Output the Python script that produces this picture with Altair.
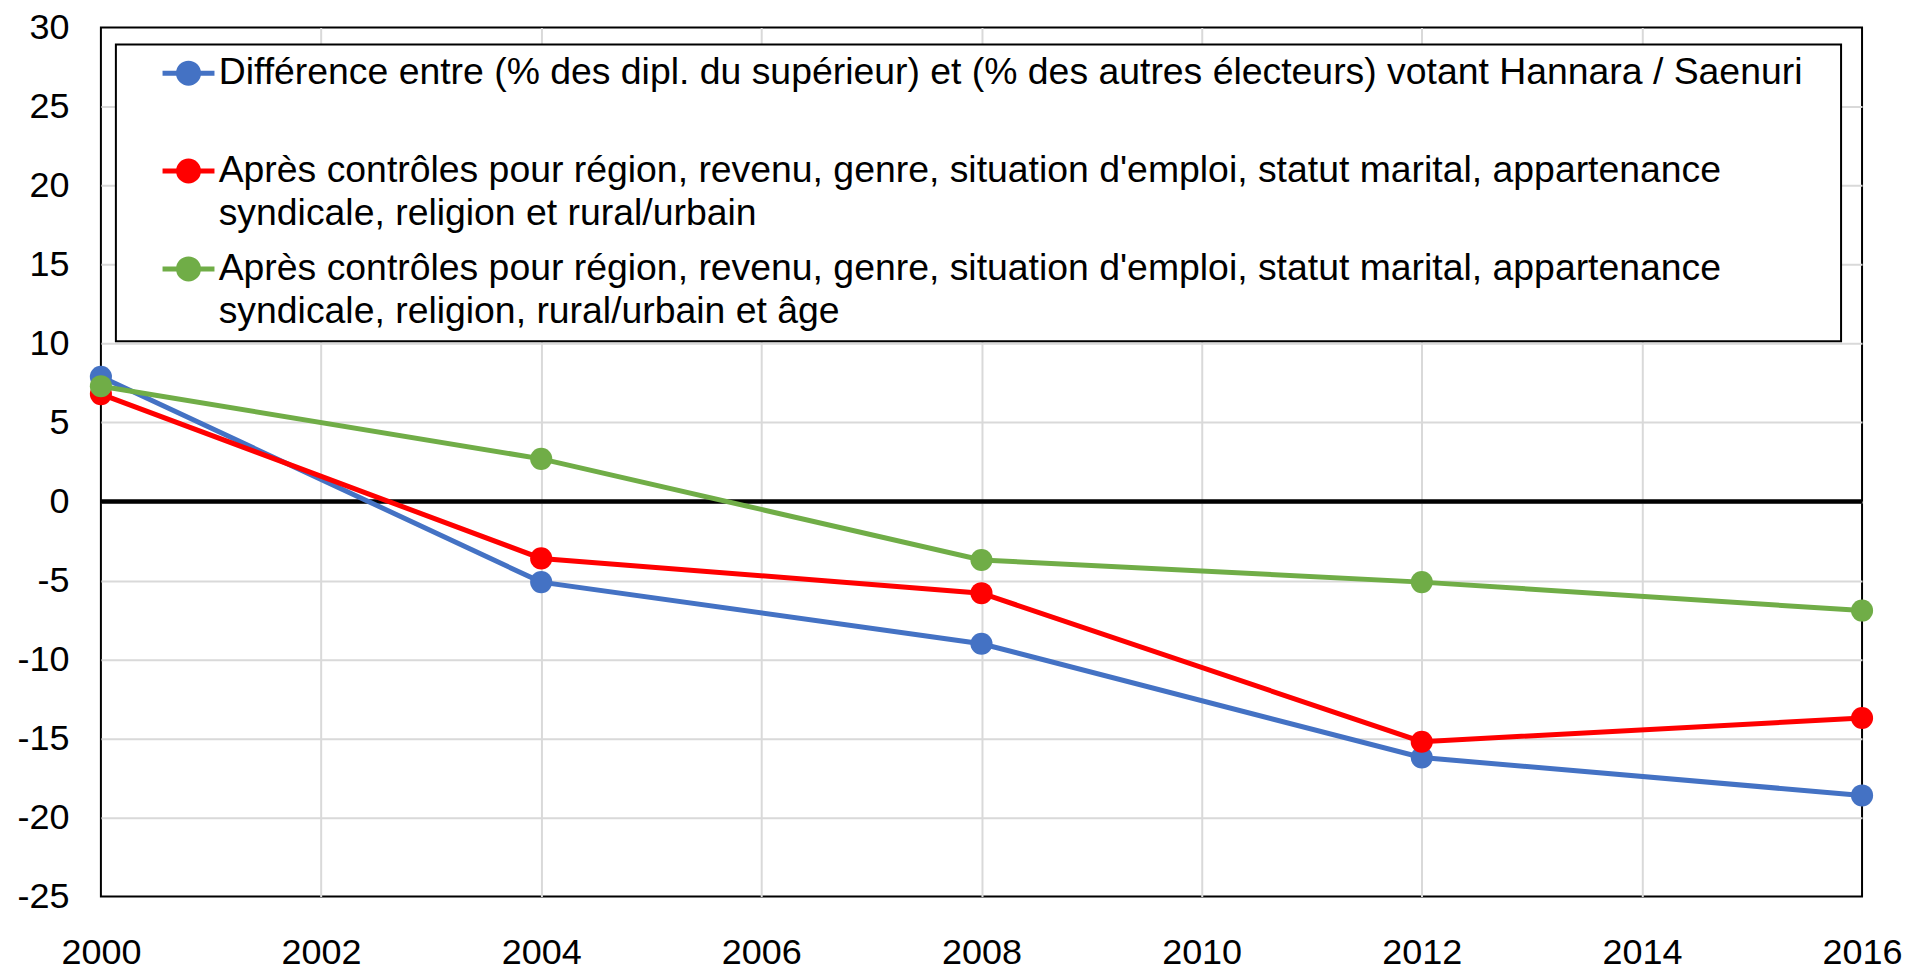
import altair as alt
import pandas as pd

years = [2000, 2004, 2008, 2012, 2016]
diff_raw = [7.9, -5.1, -9.0, -16.2, -18.6]
ctrl_no_age = [6.8, -3.6, -5.8, -15.2, -13.7]
ctrl_age = [7.3, 2.7, -3.7, -5.1, -6.9]

series_names = [
    "Différence entre (% des dipl. du supérieur) et (% des autres électeurs) votant Hannara / Saenuri",
    "Après contrôles pour région, revenu, genre, situation d'emploi, statut marital, appartenance\nsyndicale, religion et rural/urbain",
    "Après contrôles pour région, revenu, genre, situation d'emploi, statut marital, appartenance\nsyndicale, religion, rural/urbain et âge",
]
series_colors = ["#4472C4", "#FF0000", "#70AD47"]

x_ticks = [2000, 2002, 2004, 2006, 2008, 2010, 2012, 2014, 2016]
y_ticks = [-25, -20, -15, -10, -5, 0, 5, 10, 15, 20, 25, 30]

rows = []
for name, vals in zip(series_names, [diff_raw, ctrl_no_age, ctrl_age]):
    for yr, v in zip(years, vals):
        rows.append({"year": yr, "value": v, "series": name})
df = pd.DataFrame(rows)

FONT = "Liberation Sans"
# trailing spacing (kept from trimming by a zero-width space) widens the legend box on the right
PAD_RIGHT = "\u00a0\u00a0\u2009\u200b"

x_enc = alt.X(
    "year:Q",
    scale=alt.Scale(domain=[2000, 2016], nice=False, zero=False),
    axis=alt.Axis(
        values=x_ticks, labelExpr="'' + datum.value", title=None, labelFontSize=36, labelFont=FONT,
        labelColor="black", labelPadding=39, labelFlush=False, ticks=False, domain=False,
        gridColor="#d9d9d9", gridWidth=2,
        gridOpacity=alt.condition("datum.value == 2000 || datum.value == 2016", alt.value(0), alt.value(1)),
    ),
)
y_enc = alt.Y(
    "value:Q",
    scale=alt.Scale(domain=[-25, 30], nice=False, zero=False),
    axis=alt.Axis(
        values=y_ticks, labelExpr="'' + datum.value", title=None, labelFontSize=36, labelFont=FONT,
        labelColor="black", labelPadding=32, labelFlush=False, ticks=False, domain=False,
        gridColor="#d9d9d9", gridWidth=2,
        gridOpacity=alt.condition("datum.value == -25 || datum.value == 30", alt.value(0), alt.value(1)),
    ),
)

# legend symbol: short line with a (ring-filled) circle
symbol_path = (
    "M-2.6,0L2.6,0"
    "M1,0A1,1,0,1,1,-1,0A1,1,0,1,1,1,0Z"
    "M0.55,0A0.55,0.55,0,1,1,-0.55,0A0.55,0.55,0,1,1,0.55,0Z"
    "M0.15,0A0.15,0.15,0,1,1,-0.15,0A0.15,0.15,0,1,1,0.15,0Z"
)

legend = alt.Legend(
    title=None,
    orient="none",
    legendX=15,
    legendY=17,
    direction="vertical",
    labelFontSize=37.4,
    labelFont=FONT,
    labelColor="black",
    labelLimit=2000,
    labelExpr="indexof(datum.label, '\\n') < 0 ? [datum.label + '" + PAD_RIGHT + "', ' '] : split(datum.label, '\\n')",
    symbolType=symbol_path,
    symbolSize=400,
    symbolStrokeWidth=5,
    symbolOffset=44,
    labelOffset=11.5,
    rowPadding=15,
    padding=10,
    strokeColor="black",
    fillColor="white",
)

scale_c = alt.Scale(domain=series_names, range=series_colors)

zero_rule = alt.Chart(pd.DataFrame({"z": [0]})).mark_rule(color="black", strokeWidth=4.5).encode(
    y=alt.Y("z:Q")
)

lines = alt.Chart(df).mark_line(strokeWidth=5).encode(
    x=x_enc,
    y=y_enc,
    color=alt.Color("series:N", scale=scale_c, legend=legend, sort=series_names),
)

points = alt.Chart(df).mark_point(filled=True, size=490, strokeWidth=0, opacity=1, shape="circle").encode(
    x=x_enc,
    y=y_enc,
    fill=alt.Fill("series:N", scale=scale_c, legend=None, sort=series_names),
)

chart = (
    alt.layer(zero_rule, lines, points)
    .properties(
        width=1763,
        height=870,
        autosize=alt.AutoSizeParams(type="none"),
        padding={"left": 93, "top": 19, "right": 40, "bottom": 76},
        background="white",
    )
    .configure(style={"guide-label": {"lineHeight": 43}}, font=FONT)
    .configure_view(stroke="black", strokeWidth=2)
    .configure_legend(strokeWidth=2)
)

chart.save("out.html", embed_options={"renderer": "svg", "actions": False})
